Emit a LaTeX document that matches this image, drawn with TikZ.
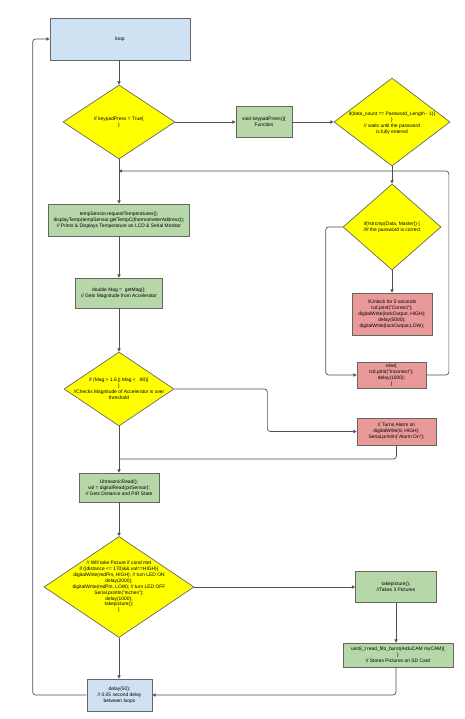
\documentclass[tikz,border=0pt]{standalone}
\usepackage{fontspec}
\setmainfont{Liberation Sans}
\usetikzlibrary{shapes.geometric,arrows.meta}
\definecolor{loopblue}{HTML}{CFE2F3}
\definecolor{boxgreen}{HTML}{B6D7A8}
\definecolor{boxred}{HTML}{EA9999}
\definecolor{decyellow}{HTML}{FFFF00}
\definecolor{edgegray}{HTML}{666666}
\definecolor{linegray}{HTML}{505050}
\tikzset{
  txt/.style={font=\fontsize{4.9}{5.9}\selectfont, align=center, inner sep=0pt},
  stepbox/.style={rectangle, draw=edgegray, line width=0.7pt, txt},
  bluebox/.style={stepbox, fill=loopblue},
  greenbox/.style={stepbox, fill=boxgreen},
  redbox/.style={stepbox, fill=boxred},
  decision/.style={diamond, draw=edgegray, line width=0.7pt, fill=decyellow, inner sep=0pt, aspect=1},
  conn/.style={draw=linegray, line width=0.7pt, rounded corners=3pt},
  arr/.style={conn, -{Triangle[length=3.2pt,width=3.2pt]}}
}
\begin{document}
\begin{tikzpicture}[x=1pt,y=-1pt]
\useasboundingbox (0,0) rectangle (464,719);
% boxes
\node[bluebox, minimum width=140pt, minimum height=42pt] (loop) at (120,39) {loop};
\node[decision, minimum width=112pt, minimum height=74pt] (d1) at (119,122) {};
\node[txt] (d1t) at (119,122) {if keypadPress = True\{\\\}};
\node[greenbox, minimum width=56pt, minimum height=31pt] (kp) at (264,122) {void keypadPress()\{\\Function};
\node[decision, minimum width=116pt, minimum height=88pt] (d2) at (392,122) {};
\node[txt] (d2t) at (392,123) {if(data\_count == Password\_Length - 1)\{\\\}\\// waits until the password\\is fully entered};
\node[decision, minimum width=98pt, minimum height=86pt] (d3) at (392,227) {};
\node[txt] (d3t) at (392,227) {if(!strcmp(Data, Master)) \{\\//if the password is correct};
\node[redbox, minimum width=80pt, minimum height=42pt] (unlock) at (392,314) {//Unlock for 5 seconds\\lcd.print("Correct");\\digitalWrite(lockOutput, HIGH);\\delay(5000);\\digitalWrite(lockOutput,LOW);};
\node[redbox, minimum width=69pt, minimum height=26pt] (else) at (391.5,375) {else\{\\lcd.print("Incorrect");\\delay(1000);\\\}};
\node[greenbox, minimum width=141pt, minimum height=32pt] (temp) at (119,220) {tempSensor.requestTemperatures();\\displayTemp(tempSensor.getTempC(thermometerAddress));\\// Prints \& Displays Temperature on LCD \& Serial Monitor};
\node[greenbox, minimum width=87pt, minimum height=30pt] (mag) at (119,293) {double Mag =~~getMag();\\// Gets Magnitude from Accelerator};
\node[decision, minimum width=110pt, minimum height=74pt] (d4) at (119,389) {};
\node[txt] (d4t) at (119,389) {if (Mag > 1.6 || Mag <~~.90)\{\\\}\\//Checks Magnitude of Accelerator is over\\threshold};
\node[redbox, minimum width=79pt, minimum height=27pt] (alarm) at (396.5,431.5) {// Turns Alarm on\\digitalWrite(8, HIGH);\\Serial.println("Alarm On");};
\node[greenbox, minimum width=80pt, minimum height=29pt] (ultra) at (119,487.5) {UltrasonicRead();\\val = digitalRead(pirSensor);\\// Gets Distance and PIR State};
\node[decision, minimum width=150pt, minimum height=101pt] (d5) at (119,587) {};
\node[txt] (d5t) at (119,587) {// Will take Picture if cond met\\if ((distance <= 170)\&\& val==HIGH)\{\\digitalWrite(redPin, HIGH); // turn LED ON\\delay(2000);\\digitalWrite(redPin, LOW); // turn LED OFF\\Serial.println("inches");\\delay(1000);\\takepicture();\\\}};
\node[greenbox, minimum width=81pt, minimum height=31pt] (take) at (396,587) {takepicture();\\//Takes 3 Pictures};
\node[greenbox, minimum width=110pt, minimum height=24pt] (uint) at (398,655) {uint8\_t read\_fifo\_burst(ArduCAM myCAM)\{\\\}\\// Stores Pictures on SD Card};
\node[bluebox, minimum width=65pt, minimum height=32pt] (delay) at (119.5,695) {delay(50);\\// 0.05 second delay\\between loops};
% junctions
\coordinate (j1) at (119,171);
\coordinate (j2) at (119,459);
% connectors
\draw[arr] (loop.south -| d1.north) -- (d1.north);
\draw[arr] (d1.east) -- (kp.west);
\draw[arr] (kp.east) -- (d2.west);
\draw[arr] (d2.south) -- (d3.north);
\draw[arr] (d3.south) -- (unlock.north);
\draw[arr] (d3.west) -- ++(-17,0) |- (else.west);
\draw[arr] (else.east) -- ++(22.5,0) |- (j1);
\draw[arr] (d1.south) -- (temp.north);
\draw[arr] (temp.south) -- (mag.north);
\draw[arr] (mag.south) -- (d4.north);
\draw[arr] (d4.east) -| ++(93,42.5) -- (alarm.west);
\draw[conn] (alarm.south) |- (j2);
\draw[arr] (d4.south) -- (ultra.north);
\draw[arr] (ultra.south) -- (d5.north);
\draw[arr] (d5.east) -- (take.west);
\draw[arr] (take.south) -- (take.south |- uint.north);
\draw[arr] (uint.south -| take.south) |- (delay.east);
\draw[arr] (d5.south) -- (d5.south |- delay.north);
\draw[arr] (delay.west) -- ++(-54,0) |- (loop.west);
\end{tikzpicture}
\end{document}
